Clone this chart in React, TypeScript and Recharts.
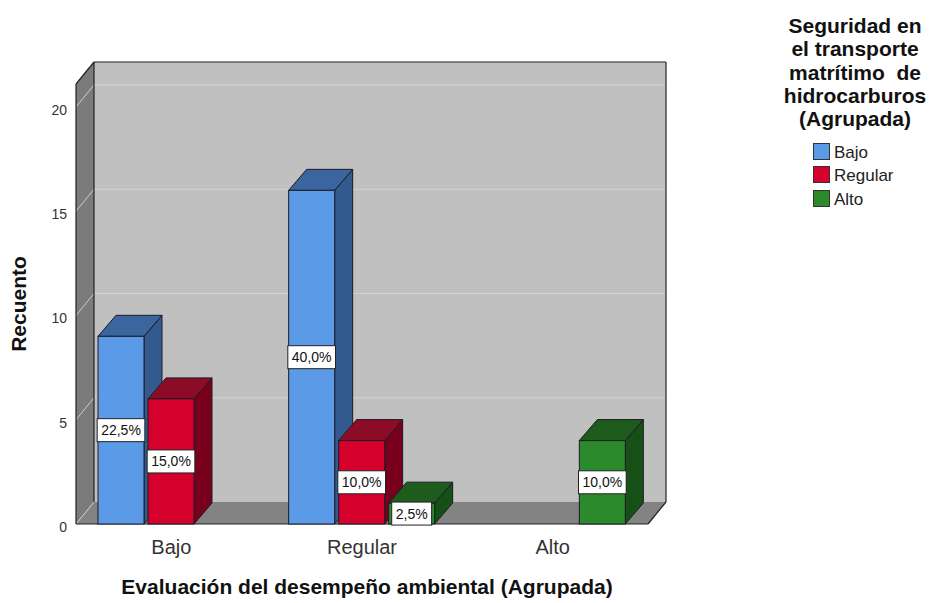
import React from 'react';
import { BarChart, Bar, XAxis, YAxis, CartesianGrid, LabelList } from 'recharts';

// Categories of "Evaluación del desempeño ambiental (Agrupada)"
const CATEGORIES = ['Bajo', 'Regular', 'Alto'];
// Counts per level of "Seguridad en el transporte ..." (null = no cases)
const COUNT_BAJO: (number | null)[] = [9, 16, null];
const COUNT_REGULAR: (number | null)[] = [6, 4, null];
const COUNT_ALTO: (number | null)[] = [null, 1, 4];
const SERIES_NAMES = ['Bajo', 'Regular', 'Alto'];
const Y_TICKS = [0, 5, 10, 15, 20];
const Y_MAX = 21.1;
const LEGEND_TITLE = ['Seguridad en', 'el transporte', 'matrítimo  de', 'hidrocarburos', '(Agrupada)'];
const X_TITLE = 'Evaluación del desempeño ambiental (Agrupada)';
const Y_TITLE = 'Recuento';

const SERIES_KEYS = ['bajo', 'regular', 'alto'];
const SERIES_VALUES = [COUNT_BAJO, COUNT_REGULAR, COUNT_ALTO];

const data = CATEGORIES.map((name, i) => ({
  name,
  bajo: COUNT_BAJO[i],
  regular: COUNT_REGULAR[i],
  alto: COUNT_ALTO[i],
}));

const TOTAL = SERIES_VALUES.flat().reduce<number>((s, v) => s + (v ?? 0), 0);

const FONT = "'Liberation Sans', Arial, sans-serif";

const PALETTE = [
  { front: '#5a9ae6', top: '#3b659f', side: '#325a8f' },
  { front: '#d6002d', top: '#8c0b26', side: '#78001d' },
  { front: '#2b8a2b', top: '#1d5c1d', side: '#175017' },
];

// chart geometry
const W = 930;
const H = 603;
const MARGIN = { top: 84, right: 282, bottom: 39, left: 0 };
const X_AXIS_H = 40;
const Y_AXIS_W = 76;
const WALL_DX = 18;
const WALL_DY = 22;
const BAR_DX = 18;
const BAR_DY = 21;

const pts = (p: number[][]) => p.map((q) => q.join(',')).join(' ');

// Draws the 3D box (walls, floor, grid lines and outline) from the grid's own geometry
function gridLine(props: any) {
  const { x, y, width, height, y1, index } = props;
  const bottom = y + height;
  const right = x + width;
  const parts: React.ReactNode[] = [];
  if (index === 0) {
    parts.push(
      <rect key="back" x={x + WALL_DX} y={y - WALL_DY} width={width} height={height} fill="#c0c0c0" />,
      <polygon key="left" points={pts([[x, y], [x + WALL_DX, y - WALL_DY], [x + WALL_DX, bottom - WALL_DY], [x, bottom]])} fill="#7b7b7b" />,
      <polygon key="floor" points={pts([[x, bottom], [x + WALL_DX, bottom - WALL_DY], [right + WALL_DX, bottom - WALL_DY], [right, bottom]])} fill="#838383" />,
    );
  }
  parts.push(
    <line key="diag" x1={x} y1={y1} x2={x + WALL_DX} y2={y1 - WALL_DY} stroke="#cdcdcd" strokeWidth={1} />,
  );
  if (y1 < bottom - 0.5) {
    parts.push(
      <line key="back-line" x1={x + WALL_DX} y1={y1 - WALL_DY} x2={right + WALL_DX} y2={y1 - WALL_DY} stroke="#d4d4d4" strokeWidth={1} />,
    );
  }
  if (index === Y_TICKS.length - 1) {
    const s = { stroke: '#222', strokeWidth: 1.2 };
    parts.push(
      <g key="outline">
        <line x1={x} y1={y} x2={x} y2={bottom} {...s} />
        <line x1={x} y1={y} x2={x + WALL_DX} y2={y - WALL_DY} {...s} />
        <line x1={x + WALL_DX} y1={y - WALL_DY} x2={right + WALL_DX} y2={y - WALL_DY} {...s} />
        <line x1={x + WALL_DX} y1={y - WALL_DY} x2={x + WALL_DX} y2={bottom - WALL_DY} {...s} />
        <line x1={right + WALL_DX} y1={y - WALL_DY} x2={right + WALL_DX} y2={bottom - WALL_DY} {...s} />
        <line x1={x} y1={bottom} x2={right} y2={bottom} {...s} />
        <line x1={right} y1={bottom} x2={right + WALL_DX} y2={bottom - WALL_DY} {...s} />
      </g>,
    );
  }
  return <g key={`grid-${index}`}>{parts}</g>;
}

function makeBarShape(key: string, colors: { front: string; top: string; side: string }) {
  return (props: any) => {
    const { x, y, width, height, payload } = props;
    if (payload == null || payload[key] == null || !(height > 0)) return <g />;
    const stroke = '#1c1c24';
    const top = [[x, y], [x + BAR_DX, y - BAR_DY], [x + width + BAR_DX, y - BAR_DY], [x + width, y]];
    const side = [[x + width, y], [x + width + BAR_DX, y - BAR_DY], [x + width + BAR_DX, y + height - BAR_DY], [x + width, y + height]];
    return (
      <g>
        <polygon points={pts(side)} fill={colors.side} stroke={stroke} strokeWidth={1} strokeLinejoin="round" />
        <polygon points={pts(top)} fill={colors.top} stroke={stroke} strokeWidth={1} strokeLinejoin="round" />
        <rect x={x} y={y} width={width} height={height} fill={colors.front} stroke={stroke} strokeWidth={1} />
      </g>
    );
  };
}

let measureCtx: CanvasRenderingContext2D | null = null;
function textWidth(text: string, font: string) {
  if (!measureCtx && typeof document !== 'undefined') {
    measureCtx = document.createElement('canvas').getContext('2d');
  }
  if (measureCtx) {
    measureCtx.font = font;
    return measureCtx.measureText(text).width;
  }
  return text.length * 8;
}

const fmtPct = (v: number) => `${((v / TOTAL) * 100).toFixed(1).replace('.', ',')}%`;

function PercentLabel(props: any) {
  const { x, y, width, height, value } = props;
  if (value == null || !(height > 0)) return null;
  const text = fmtPct(Number(value));
  const tw = textWidth(text, `14px ${FONT}`);
  const bw = tw + 8;
  const bh = 23;
  const cx = x + width / 2;
  const cy = y + height / 2;
  return (
    <g>
      <rect x={cx - bw / 2} y={cy - bh / 2} width={bw} height={bh} fill="#ffffff" stroke="#222" strokeWidth={1} />
      <text x={cx} y={cy} dy="0.36em" textAnchor="middle" fontSize={14} fontFamily={FONT} fill="#111">
        {text}
      </text>
    </g>
  );
}

function YTick(props: any) {
  const { x, y, payload } = props;
  return (
    <text x={x} y={y + 3} dy="0.355em" textAnchor="end" fontSize={14} fontFamily={FONT} fill="#333">
      {payload.value}
    </text>
  );
}

export default function App() {
  return (
    <div style={{ position: 'absolute', left: 0, top: 0, width: W, height: H, background: '#fff', fontFamily: FONT }}>
      <BarChart width={W} height={H} data={data} margin={MARGIN} barGap={4} barSize={46}>
        <CartesianGrid horizontal={gridLine} vertical={false} syncWithTicks fill="none" stroke="none" />
        <XAxis
          dataKey="name"
          height={X_AXIS_H}
          axisLine={false}
          tickLine={false}
          tickSize={0}
          tickMargin={16}
          tick={{ fontSize: 20, fill: '#333', fontFamily: FONT }}
        />
        <YAxis
          type="number"
          domain={[0, Y_MAX]}
          ticks={Y_TICKS}
          width={Y_AXIS_W}
          axisLine={false}
          tickLine={false}
          tickSize={0}
          tickMargin={9}
          tick={YTick}
        />
        {SERIES_KEYS.map((key, i) => (
          <Bar
            key={key}
            dataKey={key}
            name={SERIES_NAMES[i]}
            fill={PALETTE[i].front}
            isAnimationActive={false}
            shape={makeBarShape(key, PALETTE[i])}
          >
            <LabelList dataKey={key} content={PercentLabel} />
          </Bar>
        ))}
      </BarChart>

      {/* axis titles */}
      <div
        style={{
          position: 'absolute',
          left: 367,
          top: 575,
          transform: 'translateX(-50%)',
          whiteSpace: 'nowrap',
          fontSize: 21,
          lineHeight: '24px',
          fontWeight: 'bold',
          color: '#111',
        }}
      >
        {X_TITLE}
      </div>
      <div
        style={{
          position: 'absolute',
          left: 19,
          top: 304,
          transform: 'translate(-50%, -50%) rotate(-90deg)',
          whiteSpace: 'nowrap',
          fontSize: 21,
          lineHeight: '24px',
          fontWeight: 'bold',
          color: '#111',
        }}
      >
        {Y_TITLE}
      </div>

      {/* legend */}
      <div style={{ position: 'absolute', left: 780, top: 14, width: 150 }}>
        {LEGEND_TITLE.map((line) => (
          <div
            key={line}
            style={{
              textAlign: 'center',
              whiteSpace: 'pre',
              fontSize: 21,
              lineHeight: '23.3px',
              fontWeight: 'bold',
              color: '#111',
              marginLeft: 0,
            }}
          >
            {line}
          </div>
        ))}
        <div style={{ position: 'absolute', left: 33, top: 125 }}>
          {SERIES_NAMES.map((name, i) => (
            <div key={name} style={{ display: 'flex', alignItems: 'flex-end', height: 23.5 }}>
              <div
                style={{
                  width: 15,
                  height: 15,
                  background: PALETTE[i].front,
                  border: '1px solid #333',
                  marginRight: 4,
                  marginBottom: 3,
                }}
              />
              <span style={{ fontSize: 17, lineHeight: '20px', color: '#222' }}>{name}</span>
            </div>
          ))}
        </div>
      </div>
    </div>
  );
}
